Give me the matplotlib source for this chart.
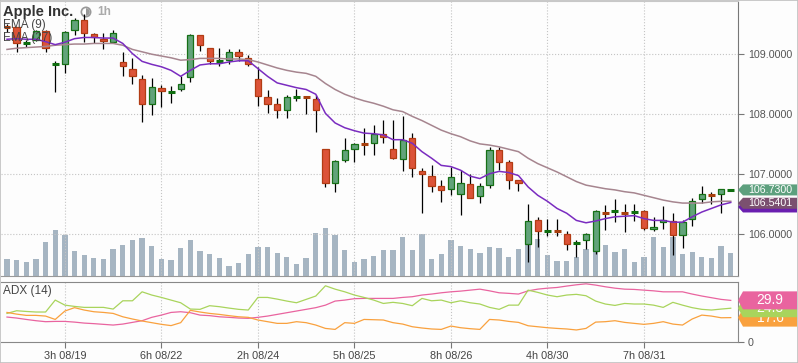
import matplotlib
matplotlib.use("Agg")
import matplotlib.pyplot as plt
from matplotlib import transforms
from matplotlib.patches import Polygon, Rectangle, Circle, Wedge
import numpy as np

plt.rcParams['font.family'] = ['Liberation Sans', 'DejaVu Sans']

# hourly candles, Apple Inc.
opens = [109.46, 109.45, 109.18, 109.23, 109.39, 108.82, 108.84, 109.41, 109.58, 109.33,
         109.25, 109.21, 108.87, 108.76, 108.59, 108.17, 108.44, 108.36, 108.41, 108.62,
         109.32, 109.11, 108.87, 108.90, 109.03, 108.94, 108.58, 108.28, 108.16, 108.06,
         108.28, 108.29, 108.25, 107.41, 106.85, 107.23, 107.41, 107.50, 107.52, 107.67,
         107.42, 107.24, 107.59, 107.05, 106.97, 106.79, 106.74, 106.67, 106.83, 106.62,
         106.82, 107.39, 107.19, 106.89, 105.83, 106.22, 106.04, 106.05, 106.00, 105.84,
         105.89, 105.70, 106.36, 106.37, 106.36, 106.35, 106.37, 106.08, 106.19, 106.21,
         105.98, 106.24, 106.58, 106.65, 106.67, 106.72]
highs = [109.50, 109.46, 109.24, 109.41, 109.41, 108.88, 109.39, 109.60, 109.68, 109.36,
         109.35, 109.40, 109.04, 108.94, 108.65, 108.61, 108.48, 108.47, 108.63, 109.34,
         109.32, 109.11, 109.11, 109.08, 109.09, 108.98, 108.79, 108.40, 108.26, 108.31,
         108.41, 108.29, 108.31, 107.41, 107.23, 107.60, 107.52, 107.76, 107.81, 107.90,
         107.90, 107.96, 107.69, 107.09, 107.14, 106.89, 107.12, 107.07, 107.00, 106.84,
         107.45, 107.45, 107.23, 106.89, 106.50, 106.27, 106.24, 106.25, 106.05, 105.90,
         106.01, 106.40, 106.48, 106.57, 106.50, 106.50, 106.40, 106.28, 106.46, 106.35,
         106.22, 106.60, 106.80, 106.70, 106.75, 106.74]
lows = [109.37, 109.04, 109.12, 109.22, 109.04, 108.37, 108.69, 109.32, 109.21, 109.18,
        109.08, 109.18, 108.63, 108.51, 107.87, 107.99, 108.12, 108.19, 108.39, 108.54,
        109.06, 108.83, 108.81, 108.84, 108.89, 108.81, 108.13, 108.02, 107.94, 107.94,
        108.22, 108.00, 107.70, 106.78, 106.70, 107.20, 107.20, 107.31, 107.31, 107.52,
        107.24, 107.05, 106.95, 106.34, 106.70, 106.53, 106.64, 106.31, 106.59, 106.51,
        106.76, 107.07, 106.74, 106.72, 105.53, 105.77, 105.96, 105.96, 105.73, 105.60,
        105.75, 105.66, 106.06, 106.20, 106.03, 106.21, 106.06, 106.05, 106.07, 105.64,
        105.76, 106.12, 106.51, 106.49, 106.34, 106.72]
closes = [109.45, 109.18, 109.19, 109.39, 109.11, 108.83, 109.37, 109.58, 109.35, 109.28,
          109.22, 109.36, 108.80, 108.63, 108.17, 108.45, 108.39, 108.37, 108.51, 109.32,
          109.16, 108.89, 108.88, 109.03, 108.97, 108.84, 108.30, 108.16, 108.07, 108.29,
          108.29, 108.28, 108.06, 106.85, 107.21, 107.39, 107.49, 107.49, 107.67, 107.62,
          107.26, 107.57, 107.09, 107.00, 106.80, 106.73, 106.95, 106.84, 106.60, 106.79,
          107.39, 107.20, 106.90, 106.84, 106.21, 106.04, 106.05, 106.04, 105.83, 105.85,
          106.00, 106.37, 106.35, 106.38, 106.35, 106.36, 106.10, 106.11, 106.22, 105.98,
          106.20, 106.55, 106.67, 106.64, 106.74, 106.73]
volumes = [520, 490, 430, 520, 1030, 1390, 1240, 760, 640, 550, 520, 820, 940, 1090, 1150, 910, 520, 490, 850, 1090,
           760, 670, 550, 310, 400, 670, 880, 880, 700, 580, 370, 550, 1300, 1450, 1240, 790, 430, 520, 610, 790,
           790, 1180, 790, 1270, 520, 670, 1090, 910, 820, 700, 880, 850, 580, 820, 1120, 1120, 640, 460, 460, 570,
           820, 750, 930, 730, 820, 420, 570, 1170, 870, 1180, 660, 730, 570, 540, 900, 690]
ema9 = [109.25, 109.26, 109.25, 109.25, 109.21, 109.16, 109.20, 109.26, 109.28, 109.28,
        109.27, 109.27, 109.18, 109.01, 108.88, 108.83, 108.79, 108.73, 108.63, 108.73,
        108.82, 108.84, 108.84, 108.87, 108.89, 108.89, 108.76, 108.63, 108.52, 108.48,
        108.44, 108.41, 108.33, 108.01, 107.85, 107.77, 107.72, 107.68, 107.67, 107.65,
        107.57, 107.57, 107.51, 107.37, 107.26, 107.14, 107.12, 107.06, 106.96, 106.92,
        107.00, 107.04, 107.02, 106.97, 106.78, 106.64, 106.54, 106.42, 106.34, 106.22,
        106.18, 106.21, 106.25, 106.28, 106.29, 106.30, 106.25, 106.22, 106.22, 106.19,
        106.19, 106.28, 106.36, 106.42, 106.48, 106.52]
ema27 = [109.08, 109.10, 109.11, 109.12, 109.13, 109.15, 109.16, 109.17, 109.17, 109.18,
         109.18, 109.18, 109.15, 109.08, 109.04, 109.00, 108.97, 108.94, 108.90, 108.91,
         108.93, 108.93, 108.93, 108.92, 108.92, 108.91, 108.87, 108.82, 108.77, 108.73,
         108.70, 108.68, 108.63, 108.51, 108.41, 108.33, 108.27, 108.22, 108.18, 108.13,
         108.07, 108.04, 107.96, 107.89, 107.81, 107.73, 107.67, 107.62, 107.55, 107.50,
         107.48, 107.45, 107.41, 107.37, 107.26, 107.17, 107.10, 107.03, 106.95, 106.87,
         106.81, 106.78, 106.75, 106.73, 106.70, 106.68, 106.64, 106.60, 106.56, 106.53,
         106.51, 106.51, 106.51, 106.53, 106.54, 106.5401]
adx = [18.0, 17.3, 16.3, 15.4, 14.7, 14.9, 14.9, 14.4, 13.7, 13.3,
       12.8, 12.3, 13.0, 14.2, 15.4, 17.8, 19.4, 21.3, 21.8, 21.1,
       19.4, 19.0, 18.2, 17.8, 17.3, 17.1, 17.8, 18.7, 19.9, 21.1,
       22.3, 23.5, 24.7, 26.5, 29.4, 30.1, 31.1, 31.3, 31.3, 31.3,
       31.3, 32.0, 32.5, 33.7, 34.4, 35.3, 36.0, 36.5, 37.2, 37.9,
       36.7, 35.3, 34.9, 34.4, 36.7, 37.9, 38.6, 39.1, 40.1, 41.0,
       41.7, 40.8, 39.6, 38.6, 37.9, 37.7, 37.2, 36.7, 36.0, 36.0,
       36.0, 34.4, 33.0, 31.8, 30.6, 29.9]
plus_di = [20.6, 22.5, 22.0, 21.6, 21.6, 30.1, 26.5, 25.6, 24.9, 24.9,
           24.9, 23.7, 29.6, 29.6, 36.0, 33.7, 32.0, 30.1, 28.2, 23.7,
           23.5, 26.1, 25.4, 24.4, 23.5, 23.0, 32.0, 32.0, 30.8, 29.4,
           28.2, 30.6, 33.0, 40.3, 37.9, 36.0, 33.7, 32.0, 30.1, 27.7,
           28.5, 27.7, 26.1, 31.3, 29.6, 30.1, 28.2, 29.6, 28.2, 27.3,
           24.9, 23.5, 26.5, 26.5, 37.2, 35.6, 33.7, 32.5, 33.7, 34.2,
           33.2, 29.4, 27.3, 26.3, 27.7, 27.3, 27.3, 26.5, 24.9, 28.5,
           26.5, 24.7, 23.5, 23.0, 23.7, 24.3]
minus_di = [21.3, 20.1, 19.2, 19.2, 18.7, 16.3, 22.3, 24.7, 23.0, 21.8,
            21.3, 20.6, 18.2, 16.6, 15.2, 14.0, 12.8, 11.9, 14.0, 22.8,
            21.6, 20.6, 19.9, 19.0, 18.2, 17.8, 15.9, 14.7, 13.5, 13.5,
            14.7, 14.0, 12.3, 9.9, 9.2, 14.0, 13.5, 16.3, 16.1, 15.9,
            14.0, 13.0, 11.1, 10.2, 9.5, 9.2, 11.6, 10.4, 9.7, 9.2,
            16.3, 15.9, 14.9, 14.2, 11.8, 11.1, 10.4, 9.9, 9.5, 8.8,
            9.9, 14.4, 14.7, 15.4, 14.2, 13.5, 12.8, 13.5, 14.7, 13.0,
            12.3, 16.6, 19.4, 18.7, 17.5, 17.6]
tick_pos = [6, 16, 26, 36, 46, 56, 66]
tick_labels = ["3h 08/19", "6h 08/22", "2h 08/24", "5h 08/25", "8h 08/26", "4h 08/30", "7h 08/31"]
price_ticks = [106, 107, 108, 109]

W, H = 798, 363


def rect(x0, y0, x1, y1):
    return [x0 / W, 1 - y1 / H, (x1 - x0) / W, (y1 - y0) / H]


fig = plt.figure(figsize=(W / 100, H / 100), dpi=100, facecolor='#fdfdfd')

ax_v = fig.add_axes(rect(1, 1, 738, 276))
ax = fig.add_axes(rect(1, 1, 738, 276))
ax_adx = fig.add_axes(rect(1, 282, 738, 342.3))

x = np.arange(len(closes))
o = np.array(opens)
c = np.array(closes)
up = c >= o
doji = np.abs(c - o) < 0.015

# volume underneath
ax_v.bar(x, volumes, width=0.55, color='#a6b5c2', zorder=1)
ax_v.set_ylim(0, 8250)
ax_v.set_facecolor('#fdfdfd')
ax_v.set_xticks([])
ax_v.set_yticks([])
for s in ax_v.spines.values():
    s.set_visible(False)

ax.set_zorder(ax_v.get_zorder() + 1)
ax.patch.set_visible(False)

# candles
ax.vlines(x, lows, highs, color='black', linewidth=0.9, zorder=3)
body = ~doji
ax.bar(x[body & up], (c - o)[body & up], bottom=o[body & up], width=0.65,
       color='#62a37a', edgecolor='#167016', linewidth=0.9, zorder=4)
ax.bar(x[body & ~up], (o - c)[body & ~up], bottom=c[body & ~up], width=0.65,
       color='#dc5338', edgecolor='#b23c14', linewidth=0.9, zorder=4)
ax.hlines(c[doji & up], x[doji & up] - 0.36, x[doji & up] + 0.36, color='#0f6e0f', linewidth=2.2, zorder=4)
ax.hlines(c[doji & ~up], x[doji & ~up] - 0.36, x[doji & ~up] + 0.36, color='#a8400e', linewidth=2.2, zorder=4)

ax.plot(x, ema27, color='#a6858f', linewidth=1.1, zorder=5)
ax.plot(x, ema9, color='#7a2cc0', linewidth=1.1, zorder=5)

for a in (ax, ax_v, ax_adx):
    a.set_xlim(-0.62, 75.75)

ax.set_ylim(105.29, 109.89)
ax.yaxis.tick_right()
ax.set_yticks(price_ticks)
ax.set_yticklabels(['%.4f' % t for t in price_ticks])
ax.tick_params(axis='y', direction='out', length=4, color='#777', labelsize=7.7,
               labelcolor='#555', pad=3)
ax.set_xticks(tick_pos)
ax.tick_params(axis='x', length=0, labelbottom=False)
ax.grid(True, linestyle=':', color='#c4c4c4', linewidth=0.8)
ax.spines['left'].set_visible(False)
ax.spines['top'].set_color('#c8c8c8')
ax.spines['right'].set_color('#777')
ax.spines['bottom'].set_color('#999')

# ADX panel
ax_adx.set_facecolor('#fdfdfd')
ax_adx.plot(x, adx, color='#e9649f', linewidth=0.9)
ax_adx.plot(x, plus_di, color='#a9d45c', linewidth=0.9)
ax_adx.plot(x, minus_di, color='#f9a13e', linewidth=0.9)
ax_adx.set_ylim(0, 43)
ax_adx.yaxis.tick_right()
ax_adx.set_yticks([0])
ax_adx.tick_params(axis='y', direction='out', length=4, color='#777', labelsize=7.7,
                   labelcolor='#555', pad=3)
ax_adx.set_xticks(tick_pos)
ax_adx.set_xticklabels(tick_labels)
ax_adx.tick_params(axis='x', direction='out', length=4, color='#777', labelsize=7.8,
                   labelcolor='#444', pad=2)
ax_adx.grid(True, axis='x', linestyle=':', color='#c4c4c4', linewidth=0.8)
ax_adx.spines['left'].set_visible(False)
for s in ('top', 'right', 'bottom'):
    ax_adx.spines[s].set_color('#888')


def tag(axis, value, text, fc, h_px, dy_px=0, size=7.7):
    trans = transforms.blended_transform_factory(axis.transAxes, axis.transData)
    y0, y1 = axis.get_ylim()
    ppu = axis.bbox.height / (y1 - y0)
    axw = axis.bbox.width
    y = value - dy_px / ppu
    hh = h_px / 2 / ppu
    tip = 5 / axw
    w = 59 / axw
    poly = Polygon([(1.0, y), (1 + tip, y + hh), (1 + w, y + hh), (1 + w, y - hh), (1 + tip, y - hh)],
                   closed=True, transform=trans, facecolor=fc, edgecolor='none',
                   clip_on=False, zorder=10)
    axis.add_patch(poly)
    if text:
        axis.text(1 + (tip + w) / 2, y, text, transform=trans, color='white', fontsize=size,
                  ha='center', va='center', clip_on=False, zorder=10)


# EMA(9) tag sits hidden behind the EMA(27) tag, only its edge shows
tag(ax, ema9[-1], '', '#6a1fb0', 11, dy_px=4.5)
tag(ax, ema27[-1], '%.4f' % ema27[-1], '#7b5070', 11, dy_px=2)
tag(ax, closes[-1], '%.4f' % closes[-1], '#5da07e', 11)

tag(ax_adx, minus_di[-1], '%.1f' % minus_di[-1], '#f9a13e', 18, size=10)
tag(ax_adx, plus_di[-1], '%.1f' % plus_di[-1], '#a9d45c', 18, size=10)
tag(ax_adx, adx[-1], '%.1f' % adx[-1], '#e9649f', 18, size=10)

# header texts
fig.text(3 / W, 1 - 12 / H, 'Apple Inc.', fontsize=10.5, fontweight='bold', color='#333',
         va='center', ha='left')
fig.text(97 / W, 1 - 12 / H, '1h', fontsize=8.5, fontweight='bold', color='#aaa',
         va='center', ha='left')
fig.text(3 / W, 1 - 25 / H, 'EMA (9)', fontsize=8.5, color='#444', va='center', ha='left', zorder=20)
fig.text(3 / W, 1 - 38.5 / H, 'EMA (27)', fontsize=8.5, color='#444', va='center', ha='left', zorder=20)
fig.text(3 / W, 1 - 291 / H, 'ADX (14)', fontsize=8.5, color='#444', va='center', ha='left', zorder=20)

# clock icon
ident = transforms.IdentityTransform()
cx, cy = 86, H - 12
fig.add_artist(Circle((cx, cy), 5.5, transform=ident, facecolor='#999', edgecolor='none'))
fig.add_artist(Circle((cx, cy), 3.8, transform=ident, facecolor='white', edgecolor='none'))
fig.add_artist(Wedge((cx, cy), 3.8, -90, 90, width=3.8, transform=ident, facecolor='#999',
                     edgecolor='none'))
fig.add_artist(Wedge((cx, cy), 3.0, 90, 200, width=3.0, transform=ident, facecolor='white',
                     edgecolor='none'))

fig.add_artist(Rectangle((0, 0), 1, 1, transform=fig.transFigure, fill=False,
                         edgecolor='#c0c0c0', linewidth=1.2))

fig.savefig('out.png', dpi=100, facecolor=fig.get_facecolor())
